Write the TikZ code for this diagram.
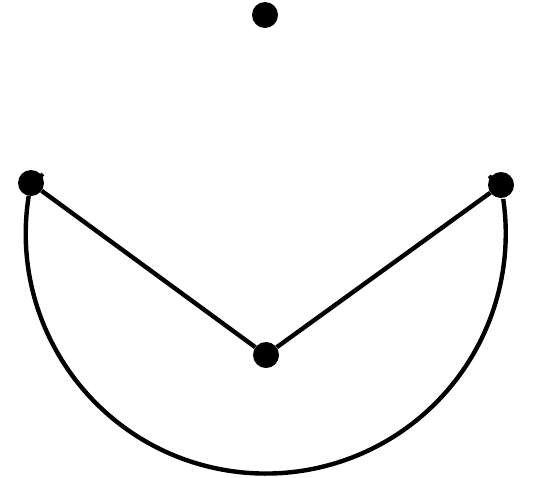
\documentclass[tikz,border=0pt]{standalone}
\usetikzlibrary{positioning}
\tikzset{
  vtx/.style={circle, fill=black, inner sep=0pt, minimum size=26pt},
  edge/.style={draw=black, line width=4.4pt},
  stub/.style={draw=black, line width=3pt}
}
\begin{document}
\begin{tikzpicture}[x=1pt, y=-1pt]
\useasboundingbox (0,0) rectangle (545,477);
\node[vtx] (top) at (265,15) {};
\node[vtx] (lft) at (31,183) {};
\node[vtx] (rgt) at (501,185) {};
\node[vtx] (mid) at (266,355) {};
\draw[edge] (lft) -- (mid);
\draw[edge] (mid) -- (rgt);
\draw[edge] (lft.260) arc[start angle=189, end angle=-8.3, radius=240];
% small ticks on the dots
\draw[stub] (lft.45) -- ++(45:4);
\draw[stub] (rgt.135) -- ++(135:4);
\draw[stub] (mid.90) -- ++(90:4);
\end{tikzpicture}
\end{document}
